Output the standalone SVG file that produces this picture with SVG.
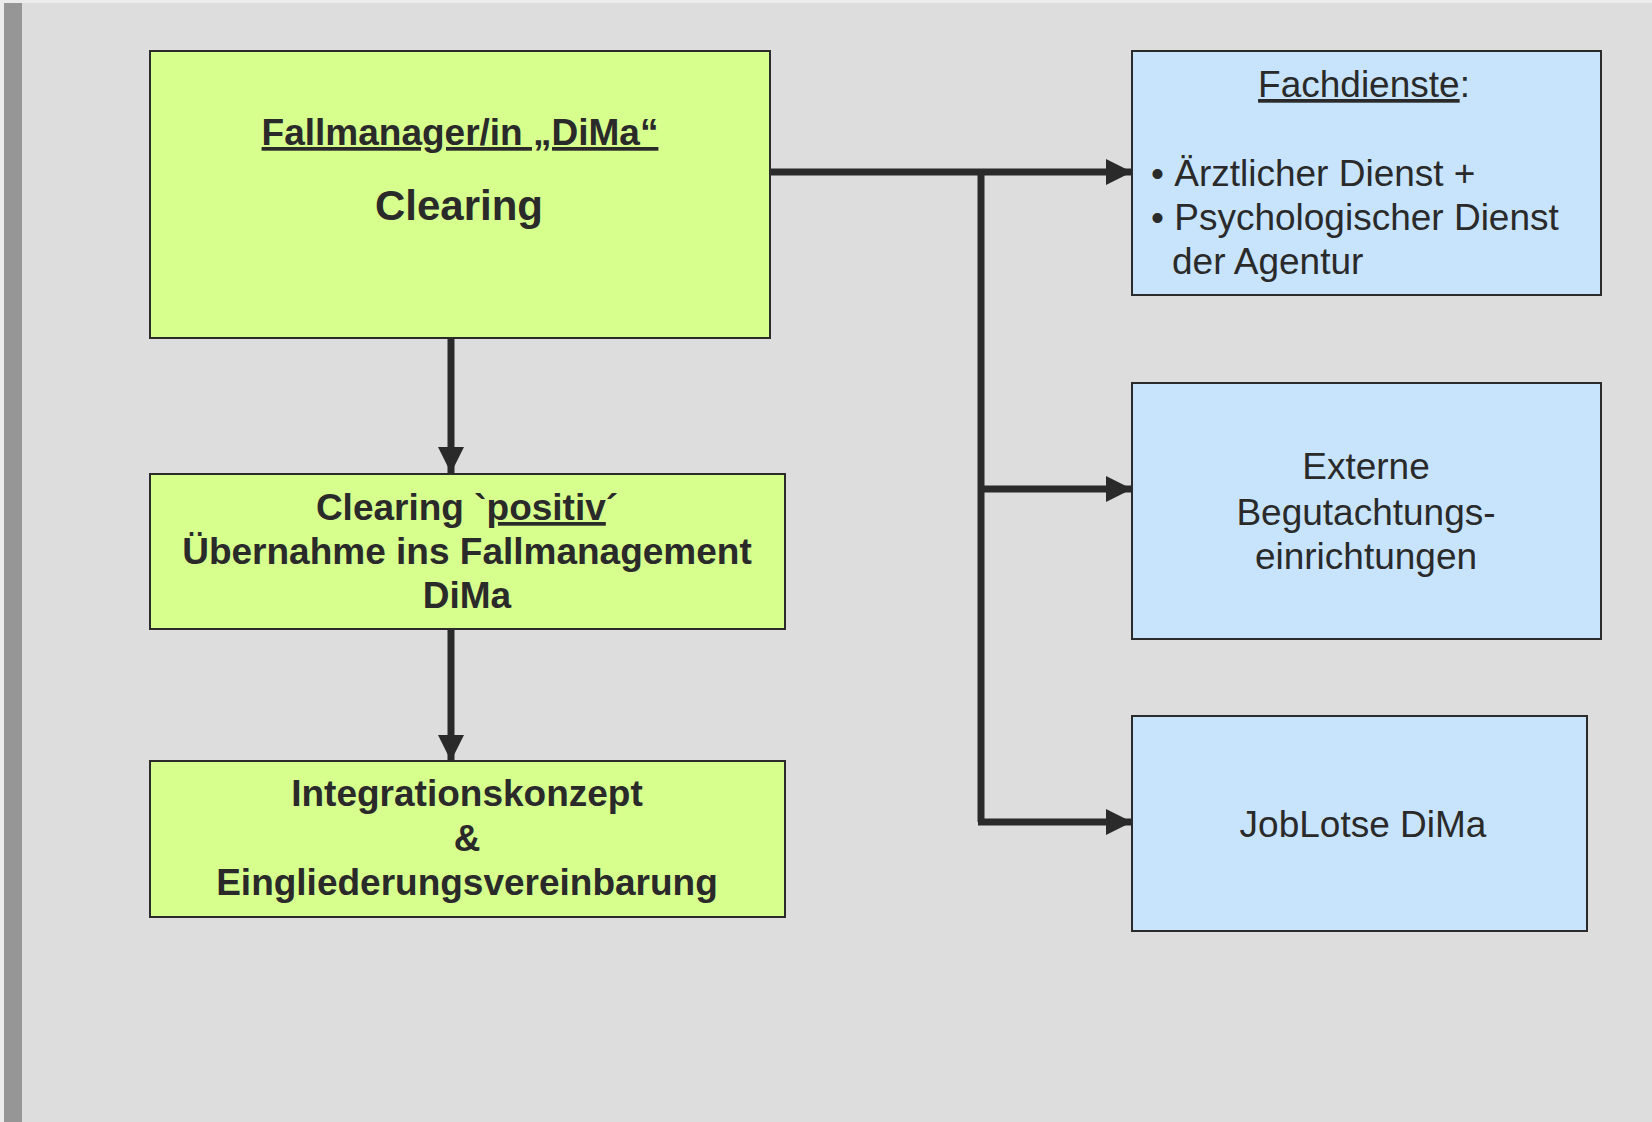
<svg xmlns="http://www.w3.org/2000/svg" width="1652" height="1122" viewBox="0 0 1652 1122">
<style>
.bg{fill:#dddddd}
.g{fill:#d6ff8e;stroke:#2b2b2b;stroke-width:2}
.b{fill:#c8e4fd;stroke:#2b2b2b;stroke-width:2}
text{font-family:"Liberation Sans",Arial,sans-serif;fill:#2a2a2a}
.bold{font-weight:bold;font-size:37px}
.big{font-weight:bold;font-size:42px}
.reg{font-size:37px}
.c{text-anchor:middle}
.u{text-decoration:underline}
.ln{fill:none;stroke:#2a2a2a;stroke-width:7}
</style>
<defs>
<marker id="ah" markerUnits="userSpaceOnUse" markerWidth="26" markerHeight="26" viewBox="0 0 24 24" refX="24" refY="12" orient="auto">
<path d="M0,0 L24,12 L0,24 Z" fill="#2a2a2a"/>
</marker>
</defs>
<rect class="bg" x="0" y="0" width="1652" height="1122"/>
<rect x="0" y="0" width="1652" height="3" fill="#ececec"/>
<rect x="0" y="0" width="4" height="1122" fill="#ececec"/>
<rect x="4" y="3" width="18" height="1119" fill="#969696"/>

<g id="connectors">
<line class="ln" x1="451" y1="338" x2="451" y2="473" marker-end="url(#ah)"/>
<line class="ln" x1="451" y1="626" x2="451" y2="761" marker-end="url(#ah)"/>
<line class="ln" x1="770" y1="172" x2="1132" y2="172" marker-end="url(#ah)"/>
<polyline class="ln" points="981,172 981,822"/>
<line class="ln" x1="981" y1="489" x2="1132" y2="489" marker-end="url(#ah)"/>
<line class="ln" x1="978" y1="822" x2="1132" y2="822" marker-end="url(#ah)"/>
</g>

<g id="fallmanager">
<rect class="g" x="150" y="51" width="620" height="287"/>
<text class="bold c u" x="460" y="145">Fallmanager/in „DiMa“</text>
<text class="big c" x="459" y="220">Clearing</text>
</g>

<g id="clearing-positiv">
<rect class="g" x="150" y="474" width="635" height="155"/>
<text class="bold c" x="467" y="520">Clearing `<tspan class="u">positiv</tspan>´</text>
<text class="bold c" x="467" y="564">Übernahme ins Fallmanagement</text>
<text class="bold c" x="467" y="608">DiMa</text>
</g>

<g id="integrationskonzept">
<rect class="g" x="150" y="761" width="635" height="156"/>
<text class="bold c" x="467" y="806">Integrationskonzept</text>
<text class="bold c" x="467" y="851">&amp;</text>
<text class="bold c" x="467" y="895">Eingliederungsvereinbarung</text>
</g>

<g id="fachdienste">
<rect class="b" x="1132" y="51" width="469" height="244"/>
<text class="reg c" x="1364" y="97"><tspan class="u">Fachdienste</tspan>:</text>
<text class="reg" x="1151" y="186">• Ärztlicher Dienst +</text>
<text class="reg" x="1151" y="230">• Psychologischer Dienst</text>
<text class="reg" x="1172" y="274">der Agentur</text>
</g>

<g id="externe">
<rect class="b" x="1132" y="383" width="469" height="256"/>
<text class="reg c" x="1366" y="479">Externe</text>
<text class="reg c" x="1366" y="525">Begutachtungs-</text>
<text class="reg c" x="1366" y="569">einrichtungen</text>
</g>

<g id="joblotse">
<rect class="b" x="1132" y="716" width="455" height="215"/>
<text class="reg c" x="1363" y="837">JobLotse DiMa</text>
</g>
</svg>
